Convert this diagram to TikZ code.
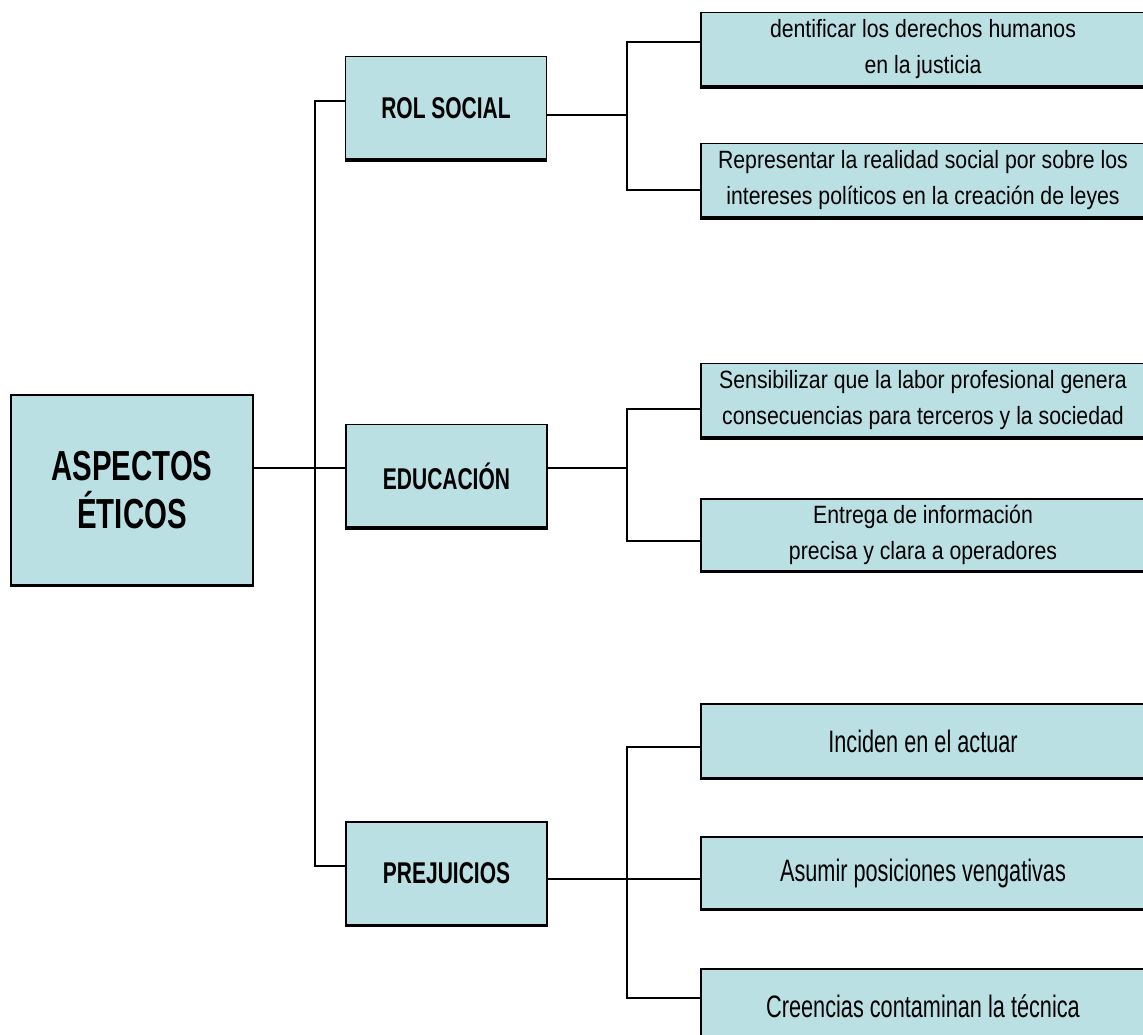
\documentclass[tikz,border=0pt]{standalone}
\usepackage{fontspec}
\setmainfont{Liberation Sans}
\newfontfamily\fuentecaja[FakeStretch=0.7]{Liberation Sans}
\newfontfamily\fuentelarga[FakeStretch=0.85]{Liberation Sans}
\definecolor{celeste}{RGB}{187,224,228}
\tikzset{
    caja/.style={draw, line width=1.2pt, fill=celeste, inner sep=0pt, align=center},
    rama/.style={caja, minimum width=201, minimum height=103, font=\fuentecaja\fontsize{30}{36}\selectfont\bfseries},
    hoja/.style={caja, minimum width=444, minimum height=74, font=\fuentelarga\fontsize{25}{36}\selectfont},
    hojacorta/.style={hoja, font=\fuentecaja\fontsize{31}{36}\selectfont},
    conector/.style={line width=2.8pt},
    borde/.style={line width=3.5pt}
}

\begin{document}
\begin{tikzpicture}[x=1pt, y=-1pt]
    \clip (0, 0) rectangle (1143, 1035);
    \node [caja, minimum width=242, minimum height=190, font=\fuentecaja\fontsize{42}{48}\selectfont\bfseries] (aspectos) at (132, 490) {ASPECTOS\\ÉTICOS};
    \node [rama] (rol) at (446, 108) {ROL SOCIAL};
    \node [rama] (educacion) at (446.5, 476) {EDUCACIÓN};
    \node [rama] (prejuicios) at (446.5, 873.5) {PREJUICIOS};
    \node [hoja] (derechos) at (923, 49.5) {dentificar los derechos humanos\\en la justicia};
    \node [hoja] (realidad) at (923, 180.5) {Representar la realidad social por sobre los\\intereses políticos en la creación de leyes};
    \node [hoja] (sensibilizar) at (923, 400.5) {Sensibilizar que la labor profesional genera\\consecuencias para terceros y la sociedad};
    \node [hoja, minimum height=72] (informacion) at (923, 535) {Entrega de información\\precisa y clara a operadores};
    \node [hojacorta] (inciden) at (923, 741) {Inciden en el actuar};
    \node [hojacorta, minimum height=72] (posiciones) at (923, 873) {Asumir posiciones vengativas};
    \node [hojacorta] (creencias) at (923, 1006) {Creencias contaminan la técnica};
    \foreach \n in {aspectos, rol, educacion, prejuicios, derechos, realidad, sensibilizar, informacion, inciden, posiciones, creencias}
        \draw [borde] (\n.south west) -- (\n.south east);
    \coordinate (eje) at (315, 468);
    \coordinate (ejerol) at (627, 115);
    \coordinate (ejeedu) at (627, 468);
    \coordinate (ejepre) at (627, 879);
    \draw [conector] ([yshift=22]aspectos.east) -- ([yshift=8]educacion.west);
    \draw [conector] ([yshift=7]rol.west) -| (eje) |- ([yshift=7.5]prejuicios.west);
    \draw [conector] ([yshift=-7]rol.east) -- (ejerol);
    \draw [conector] ([yshift=7.5]derechos.west) -| (ejerol) |- ([yshift=-9.5]realidad.west);
    \draw [conector] ([yshift=8]educacion.east) -- (ejeedu);
    \draw [conector] ([yshift=-8.5]sensibilizar.west) -| (ejeedu) |- ([yshift=-6]informacion.west);
    \draw [conector] ([yshift=-5.5]prejuicios.east) -- ([yshift=-6]posiciones.west);
    \draw [conector] ([yshift=-6]inciden.west) -| (ejepre) |- ([yshift=8]creencias.west);
\end{tikzpicture}
\end{document}
